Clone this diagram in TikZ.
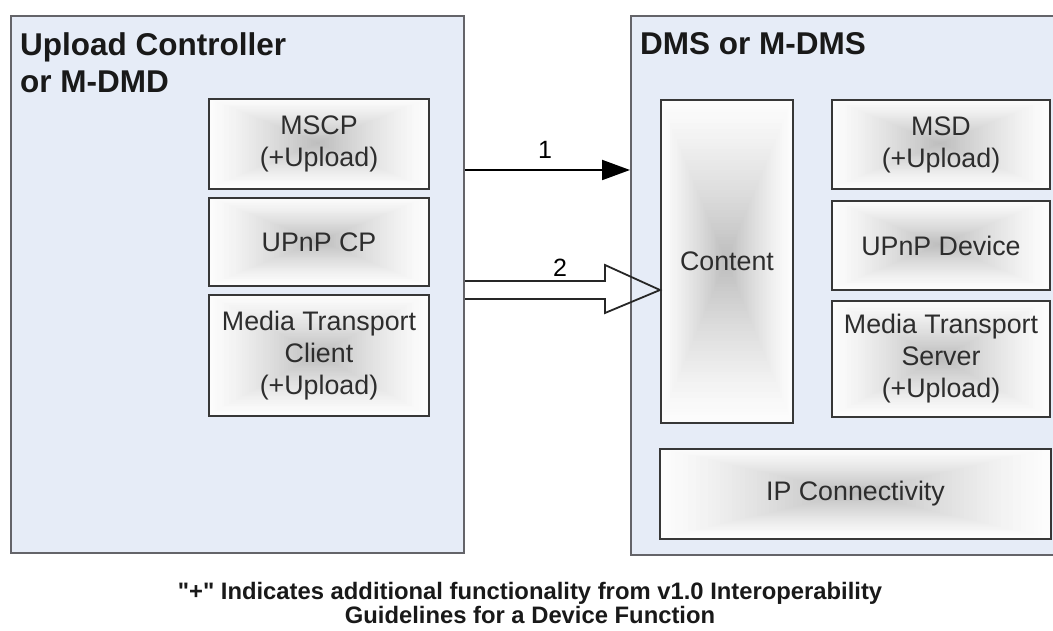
\documentclass[tikz,border=0pt]{standalone}
\usepackage{fontspec}
\setmainfont{Liberation Sans}
\usetikzlibrary{arrows.meta,calc}
\definecolor{panelfill}{RGB}{230,236,247}
\definecolor{panelline}{RGB}{100,100,105}
\definecolor{boxline}{RGB}{55,55,55}
\definecolor{boxtext}{RGB}{45,45,45}
\definecolor{boxcore}{RGB}{188,188,188}
\definecolor{boxedge}{RGB}{252,252,252}
\tikzset{
  panel/.style={draw=panelline, line width=2pt, fill=panelfill, anchor=north west, inner sep=0pt},
  paneltitle/.style={anchor=north west, align=left, font=\fontsize{31.5}{37}\selectfont\bfseries, text=black!90, inner sep=0pt},
  unit/.style={draw=boxline, line width=2pt, anchor=north west, inner sep=0pt},
  unittext/.style={text=boxtext, align=center, font=\fontsize{26.8}{32}\selectfont, inner sep=0pt},
  flowlabel/.style={font=\fontsize{25}{28}\selectfont, text=black, inner sep=0pt},
}
% a unit box: name, x1, y1, x2, y2, text
% filled with concentric rectangles that fade from the rim to a grey core
\newcommand{\unitbox}[6]{%
  \fill[black, opacity=0.25] (#2+2,#3+2) rectangle (#4+2,#5+2);
  \foreach \k in {48,...,1} {
    \pgfmathsetmacro\f{\k/48}
    \pgfmathtruncatemacro\p{100*(1-\f)^1.25}
    \fill[boxcore!\p!boxedge]
      ({(#2+#4)/2-\f*(#4-#2)/2},{(#3+#5)/2-\f*(#5-#3)/2}) rectangle
      ({(#2+#4)/2+\f*(#4-#2)/2},{(#3+#5)/2+\f*(#5-#3)/2});
  }
  \node[unit, minimum width=#4-#2, minimum height=#5-#3] (#1) at (#2,#3) {};
  \node[unittext] (#1-t) at (#1.center) {#6};}
\begin{document}
\begin{tikzpicture}[x=1pt,y=-1pt]
  \useasboundingbox (0,0) rectangle (1053,631);
  \begin{scope}
    \clip (0,0) rectangle (1053,631);
    % the two device panels
    \node[panel, minimum width=453.5, minimum height=537] (L) at (9.5,15) {};
    \node[panel, minimum width=440, minimum height=539] (R) at (630,15) {};
  \end{scope}
  \node[paneltitle] (Lt) at (20,32) {Upload Controller\\or M-DMD};
  \node[paneltitle] (Rt) at (640,32) {DMS or M-DMS};

  % functional units of the controller
  \unitbox{mscp}{208}{98}{428}{188}{MSCP\\(+Upload)}
  \unitbox{upcp}{208}{197}{428}{285}{UPnP CP}
  \unitbox{mtc}{208}{294}{428}{415}{Media Transport\\Client\\(+Upload)}

  % functional units of the server
  \unitbox{content}{660}{99}{792}{422}{Content}
  \unitbox{msd}{831}{99}{1049}{188}{MSD\\(+Upload)}
  \unitbox{updev}{831}{200}{1049}{289}{UPnP Device}
  \unitbox{mts}{831}{300}{1049}{416}{Media Transport\\Server\\(+Upload)}
  \unitbox{ip}{659}{448}{1050}{538}{IP Connectivity}

  % flow 1: control request
  \draw[line width=2pt, -{Triangle[length=28pt,width=20pt]}]
    (L.east |- 0,170) -- (R.west |- 0,170);
  \node[flowlabel] (n1) at (545,150) {1};

  % flow 2: content transfer (hollow block arrow)
  \draw[line width=1.8pt, line join=miter, draw=black!85]
    (L.east |- 0,281) -- (605,281) -- (605,265) -- (content.west |- 0,290)
    -- (605,313) -- (605,299) -- (L.east |- 0,299);
  \node[flowlabel] (n2) at (560,268) {2};

  % footnote
  \node[align=center, font=\fontsize{23.8}{24.5}\selectfont\bfseries, text=black!90, inner sep=0pt] (note) at (530,603)
    {\textquotedbl+\textquotedbl{} Indicates additional functionality from v1.0 Interoperability\\Guidelines for a Device Function};
\end{tikzpicture}
\end{document}
